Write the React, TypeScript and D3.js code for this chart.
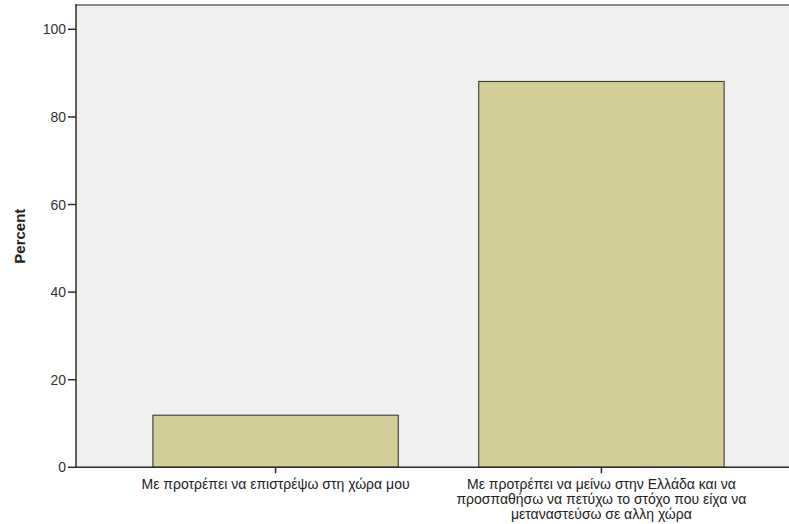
import React from "react";
import * as d3 from "d3";

const categories: string[][] = [
  ["Με προτρέπει να επιστρέψω στη χώρα μου"],
  [
    "Με προτρέπει να μείνω στην Ελλάδα και να",
    "προσπαθήσω να πετύχω το στόχο που είχα να",
    "μεταναστεύσω σε αλλη χώρα",
  ],
];
const percents = [11.9, 88.1];
const yTicks = [0, 20, 40, 60, 80, 100];

const W = 789;
const H = 524;

export default function App() {
  const left = 76;
  const right = 801;
  const top = 5;
  const bottom = 467.3;

  const x = d3
    .scaleBand<number>()
    .domain(categories.map((_, i) => i))
    .range([left, right])
    .paddingInner(0.247)
    .paddingOuter(0.236);
  const y = d3.scaleLinear().domain([0, 100]).range([bottom, 29.3]);

  const font = "'Liberation Sans', Arial, sans-serif";

  return (
    <div style={{ position: "absolute", left: 0, top: 0 }}>
      <svg width={W} height={H} style={{ display: "block", background: "#fff" }}>
        <rect x={left} y={top} width={W - left} height={bottom - top} fill="#f0f0f0" />
        <line x1={left} x2={W} y1={top} y2={top} stroke="#8a8a8a" strokeWidth={2} />
        {percents.map((v, i) => (
          <rect
            key={i}
            x={x(i)!}
            y={y(v)}
            width={x.bandwidth()}
            height={bottom - y(v)}
            fill="#d3ce97"
            stroke="#2b2b2b"
            strokeWidth={1}
          />
        ))}
        <line x1={left} x2={left} y1={top - 1} y2={bottom} stroke="#2b2b2b" strokeWidth={1.5} />
        <line x1={left} x2={W} y1={bottom} y2={bottom} stroke="#2b2b2b" strokeWidth={1.5} />
        {yTicks.map((t) => (
          <g key={t}>
            <line x1={left - 8} x2={left} y1={y(t)} y2={y(t)} stroke="#2b2b2b" strokeWidth={1.5} />
            <text
              x={left - 10}
              y={y(t)}
              dy="0.36em"
              textAnchor="end"
              fontFamily={font}
              fontSize={14}
              fill="#333"
            >
              {t}
            </text>
          </g>
        ))}
        {categories.map((lines, i) => {
          const cx = x(i)! + x.bandwidth() / 2;
          return (
            <g key={i}>
              <line x1={cx} x2={cx} y1={bottom} y2={bottom + 6} stroke="#2b2b2b" strokeWidth={1.5} />
              {lines.map((ln, j) => (
                <text
                  key={j}
                  x={cx}
                  y={bottom + 22 + j * 15}
                  textAnchor="middle"
                  fontFamily={font}
                  fontSize={14}
                  fill="#222"
                >
                  {ln}
                </text>
              ))}
            </g>
          );
        })}
        <text
          transform={`translate(25, ${(top + bottom) / 2}) rotate(-90)`}
          textAnchor="middle"
          fontFamily={font}
          fontSize={15}
          fontWeight="bold"
          fill="#222"
        >
          Percent
        </text>
      </svg>
    </div>
  );
}
